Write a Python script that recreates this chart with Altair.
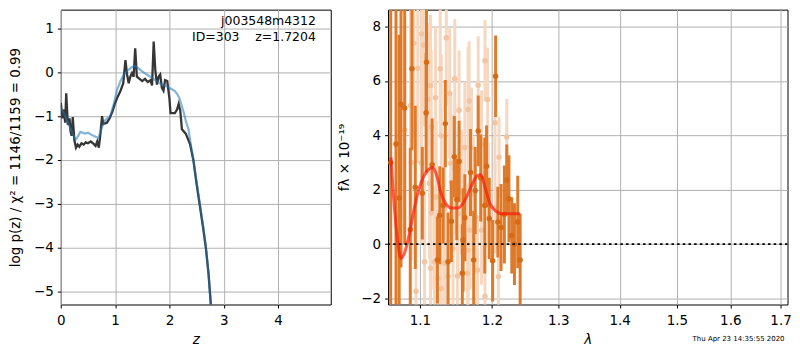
import altair as alt
import pandas as pd

# ---------------- left panel: redshift PDF ----------------
z_pz = [0.00, 0.03, 0.06, 0.08, 0.10, 0.13, 0.16, 0.18, 0.20, 0.22, 0.25, 0.28, 0.31, 0.34,
        0.38, 0.42, 0.46, 0.50, 0.55, 0.60, 0.64, 0.67, 0.70, 0.73, 0.76, 0.78, 0.85, 0.90,
        0.95, 1.00, 1.05, 1.10, 1.15, 1.19, 1.22, 1.25, 1.28, 1.31, 1.34, 1.37, 1.40, 1.45,
        1.50, 1.55, 1.60, 1.65, 1.68, 1.71, 1.74, 1.77, 1.80, 1.83, 1.86, 1.89, 1.92, 1.96,
        2.00, 2.02, 2.10, 2.14, 2.17, 2.20, 2.23, 2.30, 2.38, 2.44, 2.50, 2.56, 2.62, 2.67,
        2.72, 2.76, 2.80]
logp = [-0.70, -1.05, -0.85, -1.15, -0.48, -1.20, -1.05, -1.35, -1.45, -1.02, -1.55, -1.72,
        -1.65, -1.70, -1.62, -1.65, -1.60, -1.62, -1.58, -1.63, -1.68, -1.58, -1.72, -1.40,
        -1.00, -1.18, -1.15, -1.05, -0.90, -0.70, -0.55, -0.42, -0.25, 0.28, -0.05, -0.25,
        -0.10, -0.02, -0.10, 0.55, -0.10, -0.15, -0.20, -0.15, -0.22, -0.18, -0.30, 0.70,
        0.05, -0.28, -0.10, -0.05, -0.35, -0.42, -0.18, -0.20, -0.60, -0.93, -0.93, -0.85,
        -0.72, -0.88, -1.30, -1.40, -1.64, -2.00, -2.55, -3.05, -3.55, -4.00, -4.60, -5.27,
        -5.80]

z_chi = [0.00, 0.10, 0.20, 0.27, 0.32, 0.36, 0.45, 0.50, 0.60, 0.69, 0.76, 0.82, 0.91, 0.97,
         1.03, 1.10, 1.15, 1.22, 1.30, 1.36, 1.42, 1.48, 1.57, 1.66, 1.75, 1.84, 1.94, 2.02,
         2.10, 2.14, 2.18, 2.22, 2.26, 2.30, 2.35, 2.40, 2.44, 2.50, 2.56, 2.62, 2.67, 2.72,
         2.76, 2.80]
chi_curve = [-0.80, -1.05, -1.35, -1.55, -1.45, -1.36, -1.40, -1.38, -1.45, -1.50, -1.25,
             -1.09, -1.00, -0.75, -0.42, -0.20, -0.07, 0.03, 0.11, 0.15, 0.10, 0.04, -0.04,
             -0.11, -0.19, -0.26, -0.32, -0.37, -0.43, -0.49, -0.58, -0.74, -0.90, -1.10,
             -1.30, -1.70, -1.98, -2.50, -3.00, -3.50, -3.99, -4.60, -5.27, -5.80]

z_ticks = [0, 1, 2, 3, 4]
logp_ticks = [-5, -4, -3, -2, -1, 0, 1]

# ---------------- right panel: spectrum ----------------
lam_hi = [1.0619, 1.0687, 1.0728, 1.0752, 1.0800, 1.0873, 1.0895, 1.0939, 1.1032, 1.1083,
          1.1088, 1.1164, 1.1235, 1.1267, 1.1314, 1.1343, 1.1380, 1.1426, 1.1467, 1.1501,
          1.1533, 1.1578, 1.1589, 1.1613, 1.1693, 1.1738, 1.1759, 1.1802, 1.1838, 1.1896,
          1.1922, 1.1961, 1.2009, 1.2053, 1.2085, 1.2132, 1.2181, 1.2216, 1.2248, 1.2290,
          1.2330, 1.2379, 1.2415]
flux_hi = [3.0, 3.68, 1.70, 5.14, 5.0, 0.54, 6.45, 2.09, 1.87, 4.83,
           6.69, 2.92, -0.58, 1.06, 1.42, 4.43, -0.65, 0.84, 3.21, 1.64,
           3.04, -1.07, 0.15, 0.97, 2.63, -0.58, 1.97, 4.16, 2.43, 1.42,
           2.86, 0.94, -0.61, 6.17, 0.81, 0.61, 1.09, 2.36, 1.67, 0.32,
           0.00, 0.81, -0.58]
err_hi = [7.0, 6.0, 6.0, 6.0, 5.0, 3.0, 3.0, 3.0, 1.7, 2.2,
          2.0, 1.7, 1.6, 1.8, 1.4, 1.6, 1.8, 1.5, 1.5, 1.5,
          1.5, 1.8, 1.9, 1.6, 1.6, 1.8, 1.6, 1.3, 1.6, 2.5,
          1.5, 1.5, 1.5, 1.5, 1.3, 1.6, 1.8, 1.3, 1.6, 1.4,
          1.5, 1.7, 1.7]

lam_lo = [1.1022, 1.0919, 1.1049, 1.1356, 1.0972, 1.1273, 1.1473, 1.1142, 1.1899, 1.1937,
          1.1674, 1.1403, 1.1210, 1.1106, 1.0876, 1.0800, 1.1151, 1.1287, 1.1533, 1.1660,
          1.2216, 1.1802, 1.2044, 1.1613, 1.1707, 1.1850, 1.1417, 1.0884, 1.1022, 1.1473,
          1.1426, 1.1128, 1.1219, 1.1565, 1.1684, 1.1731, 1.1947, 1.1151, 1.1334, 1.1519,
          1.1764, 1.2044, 1.1850, 1.1684, 1.1449, 1.1334, 1.1196, 1.1062, 1.1142, 1.1242,
          1.1380, 1.1509, 1.1650, 1.1792, 1.2093, 1.1287, 1.0949, 1.1899, 1.1660, 1.2103]
flux_lo = [7.73, 7.38, 7.32, 7.59, 6.47, 6.45, 6.08, 5.83, 6.74, 5.32,
           5.26, 5.54, 5.38, 5.32, 5.10, 4.19, 4.31, 3.98, 4.92, 4.95,
           3.94, 5.84, 4.46, 3.55, 3.55, 3.65, 2.97, 3.00, 2.98, 2.76,
           2.27, 2.24, 1.73, 1.91, 2.15, 1.85, 1.79, 1.14, 1.30, 1.12,
           1.00, 1.36, 0.51, 0.51, -0.16, -0.70, -0.65, -0.65, -0.89, -1.25,
           -1.19, -1.17, -1.07, -0.95, -1.19, -1.63, -1.73, -1.92, -0.22, 3.19]
err_lo = [3.0, 3.5, 3.0, 2.5, 3.5, 2.5, 2.2, 2.6, 1.5, 1.9,
          2.2, 2.4, 2.6, 2.8, 3.5, 3.8, 2.8, 3.0, 2.2, 2.3,
          1.4, 1.8, 1.8, 2.4, 2.2, 2.0, 2.6, 3.6, 3.0, 2.4,
          2.5, 2.8, 2.8, 2.3, 2.2, 2.1, 1.9, 2.8, 2.6, 2.4,
          2.1, 1.7, 2.0, 2.2, 2.5, 2.6, 2.8, 3.0, 2.7, 2.5,
          2.4, 2.3, 2.2, 2.0, 1.7, 2.6, 3.5, 1.9, 2.3, 1.5]

lam_model = [1.0622, 1.0666, 1.0711, 1.0752, 1.0796, 1.0862, 1.0929, 1.0995, 1.1083, 1.1173,
             1.1219, 1.1287, 1.1356, 1.1426, 1.1519, 1.1613, 1.1707, 1.1792, 1.1840, 1.1899,
             1.1971, 1.2044, 1.2141, 1.2415]
flux_model = [3.19, 1.36, 0.03, -0.52, -0.34, 0.39, 1.36, 2.09, 2.64, 2.82,
              2.58, 1.85, 1.46, 1.33, 1.33, 1.61, 2.15, 2.52, 2.55, 2.09,
              1.49, 1.24, 1.12, 1.12]

lam_ticks = [1.1, 1.2, 1.3, 1.4, 1.5, 1.6, 1.7]
flux_ticks = [-2, 0, 2, 4, 6, 8]
zero_level = [0]

FONT = "DejaVu Sans"
NB = "\u00a0"

# ---------- build left ----------
df_pz = pd.DataFrame({"z": z_pz, "v": logp})
df_chi = pd.DataFrame({"z": z_chi, "v": chi_curve})

xz = alt.X("z:Q", scale=alt.Scale(domain=[0, 4.97], nice=False),
           axis=alt.Axis(values=z_ticks, format="d", title="z", titleFontStyle="italic"))
yl = alt.Y("v:Q", scale=alt.Scale(domain=[-5.3, 1.43], nice=False),
           axis=alt.Axis(values=logp_ticks, format="d",
                         title="log p(z) / χ² = 1146/1159 = 0.99", titlePadding=11))

pz_line = alt.Chart(df_pz).mark_line(color="#363636", strokeWidth=2.3, clip=True).encode(x=xz, y=yl)
chi_line = alt.Chart(df_chi).mark_line(color="#1f77b4", opacity=0.55, strokeWidth=2.2, clip=True).encode(x=xz, y=yl)

name_df = pd.DataFrame({"t": ["j003548m4312"]})
id_df = pd.DataFrame({"t": ["ID=303" + NB * 4 + "z=1.7204"]})
name_text = alt.Chart(name_df).mark_text(align="right", baseline="middle", font=FONT, fontSize=12.5,
                                         color="black").encode(x=alt.value(256), y=alt.value(11), text="t:N")
id_text = alt.Chart(id_df).mark_text(align="right", baseline="middle", font=FONT, fontSize=12.5,
                                     color="black").encode(x=alt.value(256), y=alt.value(27), text="t:N")

left = alt.layer(pz_line, chi_line, name_text, id_text).properties(width=271, height=296)

# ---------- build right ----------
df_hi = pd.DataFrame({"lam": lam_hi, "f": flux_hi, "e": err_hi})
df_hi["lo"] = df_hi["f"] - df_hi["e"]
df_hi["hi"] = df_hi["f"] + df_hi["e"]
df_lo = pd.DataFrame({"lam": lam_lo, "f": flux_lo, "e": err_lo})
df_lo["lo"] = df_lo["f"] - df_lo["e"]
df_lo["hi"] = df_lo["f"] + df_lo["e"]
df_model = pd.DataFrame({"lam": lam_model, "f": flux_model})
df_zero = pd.DataFrame({"f": zero_level})

xl = alt.X("lam:Q", scale=alt.Scale(type="log", domain=[1.0585, 1.7144], nice=False),
           axis=alt.Axis(values=lam_ticks, format=".1f", title="λ", titleFontStyle="italic"))
yf_scale = alt.Scale(domain=[-2.22, 8.62], nice=False)
yf = alt.Y("f:Q", scale=yf_scale,
           axis=alt.Axis(values=flux_ticks, format="d", title="fλ × 10⁻¹⁹", titlePadding=9))

lo_bars = alt.Chart(df_lo).mark_rule(color="#f6d7c0", strokeWidth=3, clip=True).encode(
    x=xl, y=alt.Y("lo:Q", scale=yf_scale), y2="hi:Q")
lo_pts = alt.Chart(df_lo).mark_circle(color="#f1c4a2", opacity=1, size=30, clip=True).encode(x=xl, y=yf)
hi_bars = alt.Chart(df_hi).mark_rule(color="#de7a2a", strokeWidth=3, clip=True).encode(
    x=xl, y=alt.Y("lo:Q", scale=yf_scale), y2="hi:Q")
hi_pts = alt.Chart(df_hi).mark_circle(color="#d76a14", opacity=1, size=30, clip=True).encode(x=xl, y=yf)
model = alt.Chart(df_model).mark_line(color="#ff1a0a", opacity=0.7, strokeWidth=3, interpolate="monotone",
                                      clip=True).encode(x=xl, y=yf)
zero = alt.Chart(df_zero).mark_rule(color="black", strokeWidth=2, strokeDash=[2.5, 3.2]).encode(y=yf)

date = pd.DataFrame({"t": ["Thu Apr 23 14:35:55 2020"]})
date_text = alt.Chart(date).mark_text(align="right", baseline="middle", font=FONT, fontSize=7,
                                      color="black").encode(x=alt.value(398), y=alt.value(331), text="t:N")

right = alt.layer(lo_bars, lo_pts, hi_bars, hi_pts, model, zero, date_text).properties(width=401, height=296)

chart = alt.hconcat(left, right, spacing=5.5).properties(
    padding={"left": 0, "top": 0, "right": 0, "bottom": 0}
).configure_view(stroke="black", strokeWidth=1).configure_axis(
    grid=True, gridColor="#b0b0b0", gridWidth=1, domain=False,
    tickColor="black", tickSize=3.5, tickWidth=1,
    labelFont=FONT, labelFontSize=13.5, labelColor="black", labelPadding=4,
    titleFont=FONT, titleFontSize=13.5, titleFontWeight="normal", titleColor="black",
).configure_axisX(labelPadding=5.5, titlePadding=6, labelFlush=False).configure_axisY(labelFlush=False)

chart.save("out.html", embed_options={"renderer": "svg", "actions": False})
